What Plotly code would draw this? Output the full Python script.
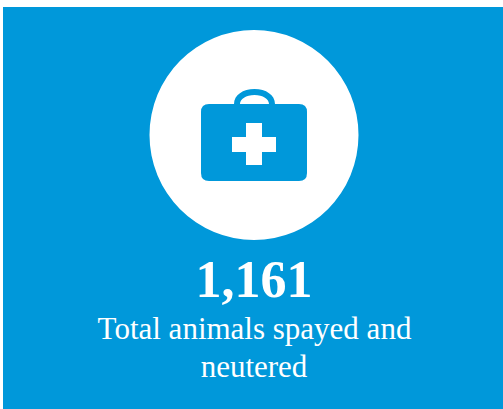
import plotly.graph_objects as go

# Content
value_labels = ["1,161"]
caption_lines = ["Total animals spayed and", "neutered"]

# Colours
BLUE = "#0098DA"
WHITE = "#FFFFFF"
SERIF = "Liberation Serif, serif"

fig = go.Figure()
fig.add_trace(go.Scatter(
    x=[254], y=[284], mode="text", text=value_labels, hoverinfo="skip",
    textposition="middle center",
    textfont=dict(family=SERIF, size=52, color=WHITE, weight="bold"),
))
fig.add_trace(go.Scatter(
    x=[254.5, 254], y=[331, 369], mode="text", text=caption_lines, hoverinfo="skip",
    textposition="middle center",
    textfont=dict(family=SERIF, size=31, color=WHITE),
))

body = ("M209,104 L299,104 Q307,104 307,112 L307,173 Q307,181 299,181 "
        "L209,181 Q201,181 201,173 L201,112 Q201,104 209,104 Z")
handle = ("M234,104 C234,95 243,89 254.5,89 C266,89 275,95 275,104 "
          "L269,104 C269,99 263,95 254.5,95 C246,95 240,99 240,104 Z")
cross = ("M246,123 L262,123 L262,137 L276,137 L276,152 L262,152 L262,165 "
         "L246,165 L246,152 L232,152 L232,137 L246,137 Z")

shapes = [
    dict(type="rect", x0=3, x1=503, y0=7, y1=409, fillcolor=BLUE, line_width=0, layer="below"),
    dict(type="circle", x0=149.5, x1=358.5, y0=30, y1=240, fillcolor=WHITE, line_width=0, layer="below"),
    dict(type="path", path=body, fillcolor=BLUE, line_width=0, layer="below"),
    dict(type="path", path=handle, fillcolor=BLUE, line_width=0, layer="below"),
    dict(type="path", path=cross, fillcolor=WHITE, line_width=0, layer="below"),
]

fig.update_layout(
    width=503, height=409,
    margin=dict(l=0, r=0, t=0, b=0),
    paper_bgcolor=WHITE, plot_bgcolor=WHITE,
    showlegend=False,
    shapes=shapes,
    xaxis=dict(range=[0, 503], visible=False, fixedrange=True),
    yaxis=dict(range=[409, 0], visible=False, fixedrange=True),
)

fig.write_html("out.html", config={"displayModeBar": False},
               post_script="document.body.style.margin='0';document.body.style.overflow='hidden';")
